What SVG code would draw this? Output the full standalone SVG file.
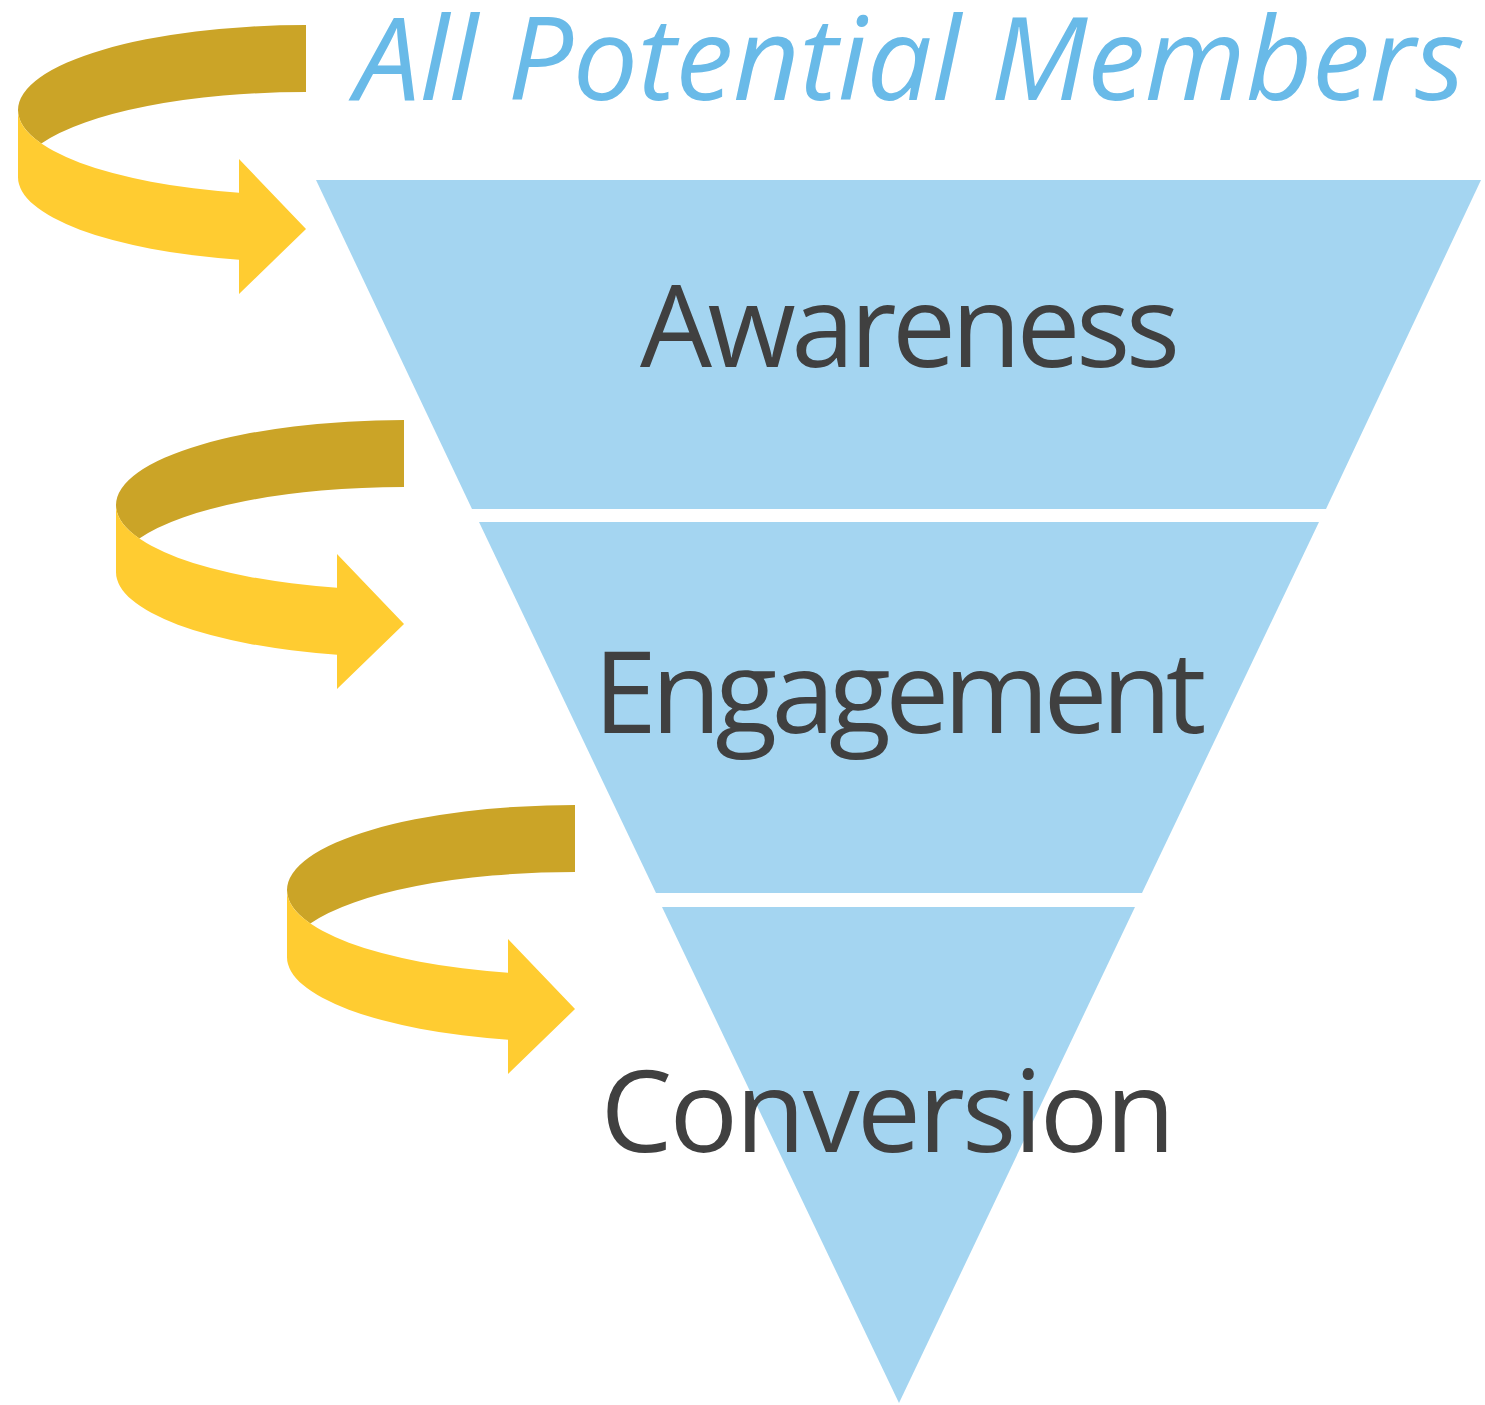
<svg xmlns="http://www.w3.org/2000/svg" xmlns:xlink="http://www.w3.org/1999/xlink" width="1485" height="1405" viewBox="0 0 1485 1405">
  <style>
    .band { fill: #A4D5F1; }
    .label { font-family: "Open Sans", "Noto Sans", sans-serif; font-size: 114px; fill: #404040; text-anchor: middle; }
    .title { font-family: "Open Sans", "Noto Sans", sans-serif; font-style: italic; font-size: 116px; fill: #69BAE8; text-anchor: middle; }
    .ribbon-back { fill: #CBA427; }
    .ribbon-front { fill: #FFCC31; }
  </style>
  <defs>
    <!-- curling ribbon arrow, origin at the centre of its upper ellipse -->
    <g id="curl">
      <path class="ribbon-back" d="M0,-85 A288,85 0 0 0 -288,0 A288,85 0 0 0 -264.7,33.5 A288,85 0 0 1 0,-18 Z"/>
      <path class="ribbon-front" d="M-288,0 A288,85 0 0 0 -67,82.7 L-67,49 L0,119 L-67,184 L-67,149.7 A288,85 0 0 1 -288,67 Z"/>
    </g>
  </defs>

  <rect width="1485" height="1405" fill="#FFFFFF"/>

  <g id="title">
    <text class="title" x="910" y="100" textLength="1110">All Potential Members</text>
  </g>

  <g id="awareness">
    <polygon class="band" points="316,180 1481,180 1326,509 472,509"/>
    <text class="label" x="910" y="367" textLength="540">Awareness</text>
  </g>

  <g id="engagement">
    <polygon class="band" points="479,522 1319,522 1142,893 656,893"/>
    <text class="label" x="900" y="733" textLength="613">Engagement</text>
  </g>

  <g id="conversion">
    <polygon class="band" points="662,907 1135,907 899,1403"/>
    <text class="label" x="888" y="1152" textLength="575">Conversion</text>
  </g>

  <g id="connectors">
    <use xlink:href="#curl" transform="translate(306,110)"/>
    <use xlink:href="#curl" transform="translate(404,505)"/>
    <use xlink:href="#curl" transform="translate(575,890)"/>
  </g>
</svg>
